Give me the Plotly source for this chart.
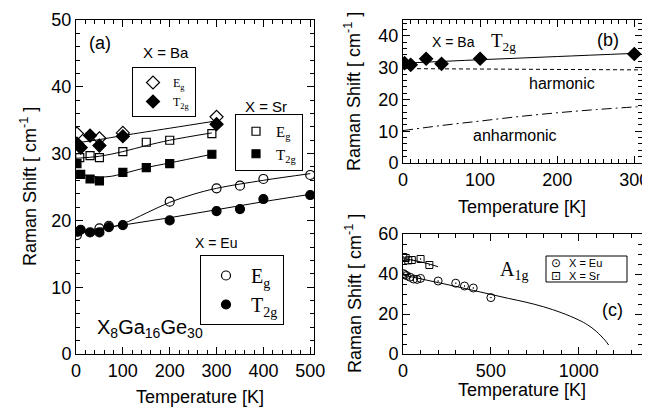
import plotly.graph_objects as go

# ---------------- Panel (a) data ----------------
ba_eg_T = [2, 50, 100, 300]
ba_eg_v = [33.0, 32.3, 33.1, 35.5]
ba_t2g_T = [2, 10, 30, 50, 100, 300]
ba_t2g_v = [31.5, 30.9, 32.7, 31.2, 32.6, 34.4]
ba_fit_T = [0, 50, 100, 200, 300]
ba_fit_v = [31.6, 32.1, 32.7, 33.8, 34.9]

sr_eg_T = [8, 30, 50, 100, 150, 200, 290]
sr_eg_v = [29.4, 29.7, 29.4, 30.3, 31.7, 32.0, 33.0]
sr_eg_fit_T = [0, 50, 100, 150, 200, 290]
sr_eg_fit_v = [29.3, 29.6, 30.3, 31.2, 32.0, 33.1]
sr_t2g_T = [2, 10, 30, 50, 100, 150, 200, 290]
sr_t2g_v = [28.5, 26.9, 26.2, 25.9, 27.2, 27.9, 28.5, 29.9]
sr_t2g_fit_T = [0, 25, 50, 75, 100, 150, 200, 290]
sr_t2g_fit_v = [27.0, 26.7, 26.5, 26.6, 27.0, 27.9, 28.6, 29.9]

eu_eg_T = [2, 50, 70, 200, 300, 350, 400, 500]
eu_eg_v = [17.8, 18.8, 19.2, 22.8, 24.8, 25.2, 26.2, 26.8]
eu_eg_fit_T = [0, 50, 100, 150, 200, 250, 300, 400, 500]
eu_eg_fit_v = [18.1, 18.6, 19.5, 21.1, 22.7, 23.9, 24.8, 26.0, 27.0]
eu_t2g_T = [4, 10, 30, 50, 70, 100, 200, 300, 350, 400, 500]
eu_t2g_v = [18.3, 18.6, 18.2, 18.2, 19.0, 19.3, 20.0, 21.4, 21.7, 23.2, 23.8]
eu_t2g_fit_T = [0, 100, 200, 300, 400, 500]
eu_t2g_fit_v = [18.3, 19.3, 20.4, 21.6, 22.8, 23.9]

# ---------------- Panel (b) data ----------------
b_T = [2, 10, 30, 50, 100, 300]
b_v = [31.4, 30.9, 32.8, 31.2, 32.8, 34.3]
b_fit_T = [0, 100, 200, 300]
b_fit_v = [31.4, 32.5, 33.5, 34.5]
harm_T = [0, 310]
harm_v = [29.7, 29.3]
anh_T = [0, 50, 100, 150, 200, 250, 310]
anh_v = [10.2, 11.8, 13.2, 14.6, 15.8, 16.8, 17.8]

# ---------------- Panel (c) data ----------------
c_eu_T = [2, 10, 20, 40, 60, 80, 100, 200, 300, 350, 400, 500]
c_eu_v = [40.2, 39.7, 39.2, 38.4, 37.5, 37.3, 37.8, 36.5, 35.4, 34.0, 33.0, 28.2]
c_sr_T = [2, 15, 30, 50, 100, 150]
c_sr_v = [48.5, 48.0, 46.8, 47.0, 47.5, 44.5]
c_sr_fit_T = [0, 50, 100, 150, 200]
c_sr_fit_v = [47.6, 47.0, 46.1, 45.0, 43.6]
c_eu_fit_T = [0, 100, 200, 300, 400, 500, 600, 700, 800, 900, 1000, 1050, 1100, 1150, 1170]
c_eu_fit_v = [39.5, 37.6, 35.7, 33.8, 31.8, 29.8, 27.8, 25.9, 23.6, 20.7, 17.0, 14.6, 11.3, 6.8, 4.5]
c_legend_labels = ["X = Eu", "X = Sr"]
c_legend_glyphs = ["\u2299", "\u22a1"]

# page body has an 8px margin: figure is drawn 8px in from the top-left corner
OFF = 8
W, H = 650 - OFF, 410 - OFF
SANS = "Liberation Sans, Arial, Helvetica, sans-serif"
SERIF = "Liberation Serif, Times New Roman, serif"
BLK = "black"

fig = go.Figure()

def pts(x, y, sym, size, xa, ya, name=None, legend=None, lw=1.2):
    fig.add_trace(go.Scatter(
        x=x, y=y, mode="markers", xaxis=xa, yaxis=ya, name=name or "",
        showlegend=name is not None, legend=legend,
        marker=dict(symbol=sym, size=size, color=BLK,
                    line=dict(color=BLK, width=lw))))

def line(x, y, xa, ya, dash="solid"):
    fig.add_trace(go.Scatter(
        x=x, y=y, mode="lines", xaxis=xa, yaxis=ya, showlegend=False,
        line=dict(color=BLK, width=1, dash=dash, shape="spline")))

# panel (a)
line(ba_fit_T, ba_fit_v, "x", "y")
line(sr_eg_fit_T, sr_eg_fit_v, "x", "y")
line(sr_t2g_fit_T, sr_t2g_fit_v, "x", "y")
line(eu_eg_fit_T, eu_eg_fit_v, "x", "y")
line(eu_t2g_fit_T, eu_t2g_fit_v, "x", "y")
pts(ba_eg_T, ba_eg_v, "diamond-open", 10, "x", "y", "E<sub>g</sub>", "legend")
pts(ba_t2g_T, ba_t2g_v, "diamond", 10, "x", "y", "T<sub>2g</sub>", "legend")
pts(sr_eg_T, sr_eg_v, "square-open", 8, "x", "y", "E<sub>g</sub>", "legend2")
pts(sr_t2g_T, sr_t2g_v, "square", 8, "x", "y", "T<sub>2g</sub>", "legend2")
pts(eu_eg_T, eu_eg_v, "circle-open", 9, "x", "y", "E<sub>g</sub>", "legend3")
pts(eu_t2g_T, eu_t2g_v, "circle", 9, "x", "y", "T<sub>2g</sub>", "legend3")

# panel (b)
line(b_fit_T, b_fit_v, "x2", "y2")
line(harm_T, harm_v, "x2", "y2", dash="4px,3px")
line(anh_T, anh_v, "x2", "y2", dash="10px,4px,2px,4px")
pts(b_T, b_v, "diamond", 10, "x2", "y2")

# panel (c)
line(c_sr_fit_T, c_sr_fit_v, "x3", "y3")
line(c_eu_fit_T, c_eu_fit_v, "x3", "y3")
pts(c_eu_T, c_eu_v, "circle-open-dot", 8, "x3", "y3", lw=1)
pts(c_sr_T, c_sr_v, "square-open-dot", 7, "x3", "y3", lw=1)

def px2x(p):
    return (p - OFF) / W

def px2y(p):
    return 1 - (p - OFF) / H

def axis(domain, rng, dtick, minor, anchor):
    return dict(domain=domain, range=rng, dtick=dtick, anchor=anchor,
                showline=True, linecolor=BLK, linewidth=1, mirror="ticks",
                ticks="inside", ticklen=7, tickwidth=1, tickcolor=BLK,
                showgrid=False, zeroline=False, ticklabeloverflow="allow",
                tickfont=dict(family=SANS, size=18, color=BLK),
                minor=dict(dtick=minor, ticks="inside", ticklen=4,
                           tickcolor=BLK, tickwidth=1, showgrid=False))

xa_dom = [px2x(76), px2x(314)]
xb_dom = [px2x(403), px2x(642)]

def legend_box(x, y, size, family=SERIF, itemwidth=30):
    return dict(x=px2x(x), y=px2y(y), xanchor="left", yanchor="top",
                bordercolor=BLK, borderwidth=1, bgcolor="white",
                font=dict(family=family, size=size, color=BLK),
                tracegroupgap=0, itemwidth=itemwidth)

layout = dict(
    width=W, height=H, margin=dict(l=0, r=0, t=0, b=0, autoexpand=False),
    paper_bgcolor="white", plot_bgcolor="white",
    font=dict(family=SANS, size=18, color=BLK),
    xaxis=axis(xa_dom, [0, 508], 100, 20, "y"),
    yaxis=axis([px2y(354), px2y(20)], [0, 50], 10, 2, "x"),
    xaxis2=axis(xb_dom, [0, 310], 100, 10, "y2"),
    yaxis2=axis([px2y(163), px2y(20)], [0, 45], 10, 2, "x2"),
    xaxis3=axis(xb_dom, [0, 1360], 500, 100, "y3"),
    yaxis3=axis([px2y(354), px2y(234)], [0, 60], 20, 5, "x3"),
    legend=legend_box(132, 67, 12),
    legend2=legend_box(235, 114, 15),
    legend3=legend_box(200, 255, 20, itemwidth=40),
)
fig.update_layout(**layout)

ann = []
def text(x, y, s, size=18, family=SANS, angle=0, xanchor="center"):
    ann.append(dict(x=px2x(x), y=px2y(y), xref="paper", yref="paper",
                    text=s, showarrow=False, textangle=angle,
                    font=dict(family=family, size=size, color=BLK),
                    xanchor=xanchor, yanchor="middle"))

ylab = "Raman Shift [ cm<sup>-1</sup> ]"
text(28, 187, ylab, angle=-90)
text(353, 92, ylab, angle=-90)
text(353, 294, ylab, angle=-90)
text(200, 397, "Temperature [K]")
text(522, 207, "Temperature [K]")
text(522, 390, "Temperature [K]")
text(100, 43, "(a)")
text(608, 40, "(b)")
text(612, 310, "(c)")
text(166, 53, "X = Ba", size=15)
text(266, 107, "X = Sr", size=15)
text(216, 243, "X = Eu", size=14)
text(150, 328, "X<sub>8</sub>Ga<sub>16</sub>Ge<sub>30</sub>", size=20)
text(453, 42, "X = Ba", size=14)
text(503, 42, "T<sub>2g</sub>", size=19, family=SERIF)
text(562, 83, "harmonic", size=16)
text(515, 135, "anharmonic", size=16)
text(514, 270, "A<sub>1g</sub>", size=20, family=SERIF)

# panel (c) key: boxed, compact
for i, (g, lab) in enumerate(zip(c_legend_glyphs, c_legend_labels)):
    yy = 263 + 13 * i
    text(556, yy, g, size=12, family="DejaVu Sans")
    text(567, yy, lab, size=11, xanchor="left")
fig.update_layout(annotations=ann)

fig.update_layout(shapes=[dict(type="rect", xref="paper", yref="paper",
                               x0=px2x(546), x1=px2x(627),
                               y0=px2y(282), y1=px2y(256),
                               line=dict(color=BLK, width=1),
                               fillcolor="white", layer="below")])

fig.write_html("out.html")
